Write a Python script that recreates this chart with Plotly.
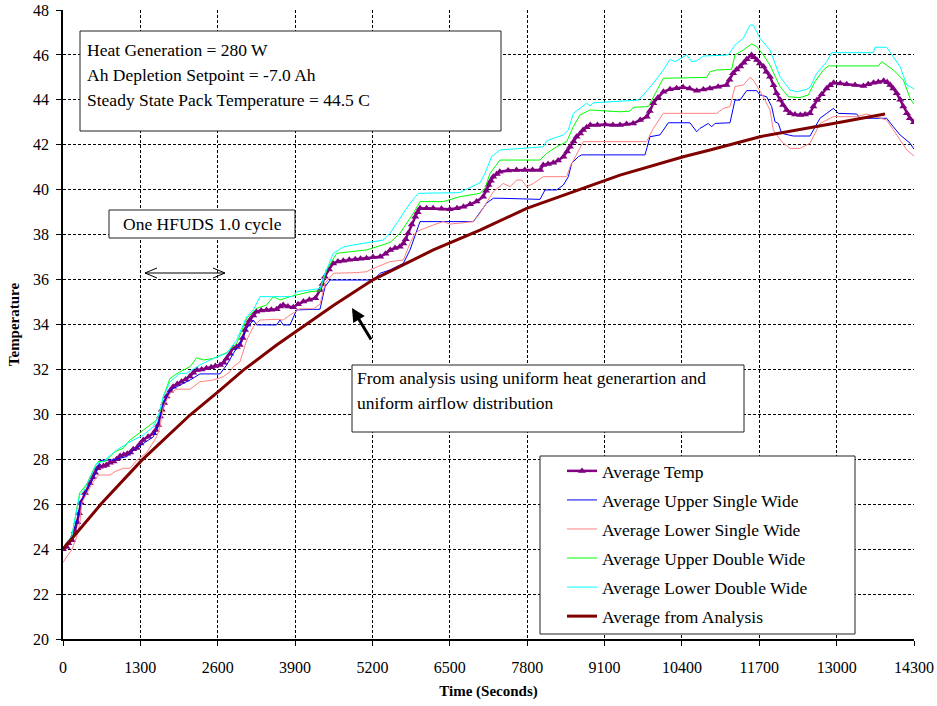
import plotly.graph_objects as go

# ---- series data (time in seconds, temperature in deg C) ----
time_avg = [0, 60, 90, 150, 200, 240, 270, 300, 370, 450, 500, 540, 580, 620, 680, 730, 790, 850, 900, 960,
            1020, 1080, 1130, 1180, 1240, 1300, 1350, 1430, 1520, 1560, 1600, 1630, 1660, 1700, 1740, 1800,
            1850, 1920, 1990, 2060, 2130, 2190, 2250, 2330, 2410, 2490, 2560, 2640, 2700, 2750, 2810, 2860,
            2920, 2970, 3020, 3060, 3100, 3140, 3200, 3250, 3330, 3420, 3500, 3590, 3650, 3700, 3780, 3870,
            3950, 4040, 4140, 4240, 4320, 4360, 4400, 4470, 4540, 4620, 4710, 4810, 4910, 5000, 5100, 5210,
            5330, 5420, 5500, 5580, 5660, 5720, 5760, 5800, 5860, 5920, 5960, 6000, 6110, 6220, 6360, 6500,
            6620, 6730, 6840, 6950, 7060, 7110, 7150, 7190, 7230, 7290, 7340, 7480, 7620, 7760, 7890, 8020,
            8070, 8150, 8240, 8320, 8410, 8470, 8520, 8580, 8630, 8690, 8740, 8800, 8860, 8980, 9110, 9240,
            9360, 9470, 9580, 9700, 9810, 9860, 9920, 10000, 10090, 10200, 10310, 10420, 10530, 10650, 10760,
            10870, 11010, 11150, 11200, 11260, 11320, 11380, 11440, 11490, 11570, 11610, 11660, 11710, 11770,
            11820, 11880, 11940, 11990, 12050, 12100, 12160, 12220, 12300, 12390, 12470, 12550, 12610, 12670,
            12750, 12830, 12890, 12950, 13060, 13170, 13310, 13450, 13530, 13620, 13700, 13790, 13850, 13900,
            13950, 14010, 14070, 14120, 14180, 14230, 14300]
temp_avg = [24.0, 24.1, 24.26, 24.4, 24.8, 25.2, 25.6, 26.07, 26.5, 26.93, 27.2, 27.4, 27.6, 27.67, 27.7, 27.75,
            27.85, 27.9, 28.0, 28.15, 28.2, 28.25, 28.3, 28.45, 28.5, 28.7, 28.86, 29.0, 29.16, 29.3, 29.53,
            29.9, 30.2, 30.5, 30.79, 31.05, 31.23, 31.35, 31.45, 31.55, 31.68, 31.85, 31.97, 32.0, 32.05, 32.1,
            32.15, 32.2, 32.3, 32.49, 32.7, 32.94, 33.0, 33.09, 33.4, 33.76, 34.0, 34.2, 34.4, 34.57, 34.62,
            34.65, 34.66, 34.68, 34.8, 34.87, 34.8, 34.77, 34.9, 35.02, 35.1, 35.17, 35.54, 35.8, 36.13, 36.45,
            36.72, 36.8, 36.84, 36.88, 36.9, 36.93, 36.95, 37.0, 37.02, 37.15, 37.32, 37.4, 37.46, 37.61, 37.8,
            38.06, 38.45, 38.8, 39.0, 39.17, 39.18, 39.17, 39.15, 39.13, 39.18, 39.24, 39.35, 39.47, 39.69,
            39.95, 40.21, 40.4, 40.58, 40.7, 40.8, 40.85, 40.88, 40.88, 40.88, 40.88, 41.1, 41.15, 41.2, 41.3,
            41.47, 41.7, 41.91, 42.15, 42.36, 42.5, 42.66, 42.78, 42.88, 42.88, 42.9, 42.88, 42.88, 42.92,
            42.95, 43.1, 43.25, 43.5, 43.85, 44.1, 44.36, 44.47, 44.52, 44.56, 44.5, 44.41, 44.46, 44.51,
            44.58, 44.66, 44.9, 45.18, 45.35, 45.48, 45.65, 45.81, 46.0, 45.9, 45.77, 45.62, 45.48, 45.25,
            45.03, 44.65, 44.29, 44.0, 43.77, 43.55, 43.4, 43.35, 43.33, 43.35, 43.4, 43.7, 43.99, 44.25,
            44.51, 44.65, 44.76, 44.73, 44.7, 44.66, 44.62, 44.7, 44.76, 44.8, 44.85, 44.78, 44.66, 44.5,
            44.29, 44.0, 43.7, 43.4, 43.18, 43.0]

time_usw = [0, 100, 240, 300, 400, 510, 594, 620, 846, 1070, 1182, 1350, 1518, 1602, 1686, 1798, 1966, 2134,
            2302, 2638, 2751, 2863, 2974, 3087, 3198, 3254, 3590, 3646, 3702, 3814, 3926, 4319, 4403, 4487,
            5215, 5327, 5495, 5719, 5831, 5943, 5999, 6895, 7119, 7231, 7343, 8016, 8100, 8296, 8408, 8492,
            8548, 8660, 8716, 9780, 9864, 10032, 10172, 10536, 10648, 10704, 10844, 10900, 10956, 11208,
            11292, 11376, 11488, 11656, 11712, 11824, 11908, 11964, 12020, 12076, 12272, 12553, 12721, 12833,
            12945, 13029, 13337, 13393, 13841, 13953, 14066, 14234, 14300]
temp_usw = [24.0, 24.3, 25.3, 26.1, 26.6, 27.15, 27.67, 27.95, 27.97, 28.12, 28.41, 28.71, 29.0, 29.6, 30.49,
            31.08, 31.31, 31.53, 31.8, 31.8, 32.2, 32.72, 33.16, 33.83, 34.2, 33.98, 33.98, 34.2, 33.98, 33.98,
            34.65, 34.68, 35.68, 35.98, 35.98, 36.28, 36.43, 36.72, 37.32, 38.2, 38.58, 38.58, 39.4, 39.62,
            39.62, 39.57, 39.99, 39.99, 40.21, 40.58, 41.18, 41.47, 41.55, 41.55, 42.36, 42.44, 42.98, 42.98,
            42.58, 42.73, 42.95, 42.8, 42.95, 42.98, 43.99, 43.99, 44.41, 44.41, 44.22, 44.14, 43.7, 43.03,
            42.95, 42.51, 42.39, 42.39, 43.18, 43.4, 43.62, 43.4, 43.37, 43.18, 43.18, 42.8, 42.44, 42.07, 41.8]

time_lsw = [0, 60, 146, 230, 286, 314, 398, 510, 594, 790, 874, 1014, 1126, 1238, 1406, 1574, 1630, 1686, 1798,
            1910, 2134, 2302, 2526, 2695, 2807, 2863, 2974, 3087, 3198, 3310, 3590, 3702, 3814, 3983, 4207,
            4319, 4403, 4543, 4935, 5103, 5159, 5495, 5719, 5831, 5915, 5999, 6223, 6391, 6503, 6895, 7007,
            7119, 7231, 7399, 7511, 7624, 7708, 7792, 7904, 8072, 8464, 8520, 8632, 8744, 9808, 9920, 10088,
            10984, 11096, 11208, 11292, 11432, 11544, 11600, 11768, 11880, 11936, 12076, 12217, 12385, 12553,
            12721, 12945, 13337, 13505, 13841, 14009, 14178, 14300]
temp_lsw = [23.4, 23.66, 23.96, 24.55, 25.22, 26.04, 26.48, 27.0, 27.3, 27.3, 27.45, 27.6, 27.6, 27.95, 28.3,
            29.0, 29.45, 30.34, 30.94, 31.12, 31.12, 31.45, 31.53, 31.68, 31.9, 32.12, 32.34, 33.31, 33.9,
            34.2, 34.23, 34.2, 34.42, 34.7, 34.7, 34.9, 35.83, 36.28, 36.31, 36.35, 36.43, 36.8, 36.87, 37.61,
            38.06, 38.2, 38.43, 38.58, 38.47, 38.58, 38.95, 39.4, 39.91, 40.28, 40.13, 40.43, 40.43, 40.13,
            40.28, 40.58, 40.58, 41.02, 41.55, 42.14, 42.14, 42.73, 43.4, 43.4, 43.62, 43.7, 44.59, 44.66,
            45.0, 44.88, 44.14, 43.55, 42.66, 42.14, 41.84, 41.84, 42.07, 42.95, 43.25, 43.25, 43.37, 43.1,
            42.44, 41.77, 41.5]

time_udw = [0, 150, 280, 400, 540, 594, 706, 874, 1014, 1126, 1350, 1574, 1630, 1686, 1798, 1966, 2134, 2246,
            2358, 2526, 2751, 2919, 3087, 3254, 3422, 3534, 3646, 3814, 3983, 4151, 4319, 4431, 4599, 5103,
            5495, 5663, 5887, 5999, 6391, 6671, 7007, 7091, 7175, 7343, 8016, 8128, 8296, 8464, 8576, 8688,
            8856, 9360, 9528, 9584, 9836, 9920, 10088, 10816, 10872, 10984, 11236, 11292, 11432, 11572,
            11656, 11768, 11880, 12048, 12188, 12385, 12525, 12637, 12777, 12861, 13701, 13757, 13953, 14122,
            14234, 14300]
temp_udw = [24.0, 24.6, 26.5, 26.9, 27.7, 27.9, 27.9, 28.34, 28.49, 28.86, 29.3, 29.75, 30.12, 30.79, 31.6,
            31.9, 32.12, 32.52, 32.42, 32.49, 32.75, 33.16, 34.28, 34.72, 34.87, 35.24, 35.09, 35.24, 35.35,
            35.46, 35.5, 36.43, 37.17, 37.32, 37.65, 38.06, 38.95, 39.47, 39.47, 39.69, 39.84, 40.06, 40.73,
            41.32, 41.32, 41.62, 41.91, 42.14, 42.81, 43.33, 43.55, 43.47, 43.5, 43.67, 43.7, 44.14, 44.96,
            45.0, 45.25, 45.33, 45.36, 46.0, 46.22, 46.49, 46.37, 46.0, 45.55, 44.59, 44.14, 44.1, 44.22,
            44.81, 45.33, 45.51, 45.51, 45.7, 45.33, 44.88, 44.07, 43.8]

time_ldw = [0, 150, 280, 350, 480, 566, 674, 902, 1126, 1350, 1518, 1602, 1686, 1798, 1966, 2078, 2302, 2526,
            2751, 2919, 3087, 3198, 3310, 3870, 3926, 4207, 4319, 4403, 4543, 4711, 4879, 5383, 5495, 5607,
            5831, 5971, 6671, 6755, 7007, 7091, 7203, 7343, 8072, 8128, 8408, 8492, 8576, 8800, 8856, 8912,
            9668, 9752, 9920, 10088, 10200, 10284, 10480, 10564, 10648, 10760, 11180, 11292, 11432, 11544,
            11600, 11712, 11880, 12048, 12217, 12329, 12497, 12553, 12665, 12833, 12917, 13617, 13645, 13841,
            13953, 14066, 14178, 14290, 14300]
temp_ldw = [24.0, 24.6, 26.4, 26.6, 27.3, 27.82, 27.9, 28.41, 28.78, 29.08, 29.45, 29.9, 30.79, 31.45, 31.83,
            31.83, 32.2, 32.49, 32.72, 33.31, 34.35, 34.65, 35.24, 35.24, 35.46, 35.54, 35.6, 36.28, 37.17,
            37.45, 37.54, 37.76, 38.06, 38.5, 39.4, 39.84, 39.87, 39.99, 40.31, 40.73, 41.47, 41.77, 41.91,
            42.18, 42.44, 42.66, 43.4, 43.85, 43.73, 43.87, 43.99, 44.22, 44.74, 45.33, 45.8, 45.7, 46.0, 45.7,
            45.74, 45.95, 46.0, 46.44, 46.74, 47.33, 47.33, 46.74, 46.22, 45.03, 44.44, 44.36, 44.47, 44.56,
            45.18, 45.7, 46.1, 46.1, 46.34, 46.34, 45.92, 45.48, 44.66, 44.51, 44.45]

time_ana = [0, 650, 1322, 2134, 2610, 3030, 3590, 3983, 4543, 5215, 5719, 6223, 7007, 7792, 9360, 10424, 10872,
            11712, 12945, 13813]
temp_ana = [24.0, 26.04, 27.95, 29.97, 31.01, 31.97, 33.09, 33.83, 34.85, 36.0, 36.65, 37.32, 38.2, 39.17,
            40.65, 41.47, 41.77, 42.36, 42.95, 43.37]

series_names = ["Average Temp", "Average Upper Single Wide", "Average Lower Single Wide",
                "Average Upper Double Wide", "Average Lower Double Wide", "Average from Analysis"]

x_ticks = list(range(0, 14301, 1300))
x_tick_text = [str(v) for v in x_ticks]
y_ticks = list(range(20, 49, 2))
y_tick_text = [str(v) for v in y_ticks]

note_lines = ["Heat Generation = 280 W", "Ah Depletion Setpoint = -7.0 Ah",
              "Steady State Pack Temperature = 44.5 C"]
cycle_label = "One HFUDS 1.0 cycle"
analysis_note = ["From analysis using uniform heat generartion and", "uniform airflow distribution"]

# ---- styling / layout ----
SERIF = "Liberation Serif, Times New Roman, serif"
TXT = 17.5
W, H = 937, 706
ML, MR, MT, MB = 63, 23, 10, 67
PW, PH = W - ML - MR, H - MT - MB


def fx(p):  # figure pixel -> paper x
    return (p - ML) / PW


def fy(p):  # figure pixel -> paper y
    return (H - MB - p) / PH


fig = go.Figure()

fig.add_trace(go.Scatter(x=time_avg, y=temp_avg, name=series_names[0], mode="lines+markers",
                         line=dict(color="#800080", width=2.5),
                         marker=dict(symbol="triangle-up", size=7, color="#800080"),
                         legendgroup="g0"))
fig.add_trace(go.Scatter(x=time_usw, y=temp_usw, name=series_names[1], mode="lines",
                         line=dict(color="#0000FF", width=1), legendgroup="g1"))
fig.add_trace(go.Scatter(x=time_lsw, y=temp_lsw, name=series_names[2], mode="lines",
                         line=dict(color="#FF8080", width=1), legendgroup="g2"))
fig.add_trace(go.Scatter(x=time_udw, y=temp_udw, name=series_names[3], mode="lines",
                         line=dict(color="#00FF00", width=1), legendgroup="g3"))
fig.add_trace(go.Scatter(x=time_ldw, y=temp_ldw, name=series_names[4], mode="lines",
                         line=dict(color="#00FFFF", width=1), legendgroup="g4"))
fig.add_trace(go.Scatter(x=time_ana, y=temp_ana, name=series_names[5], mode="lines",
                         line=dict(color="#800000", width=3), legendgroup="g5"))

axis_common = dict(
    showgrid=True, gridcolor="#000000", gridwidth=1, griddash="3px,2px",
    showline=True, linecolor="#000000", linewidth=1.5, mirror=False,
    ticks="outside", ticklen=5, tickcolor="#000000", tickwidth=1,
    tickfont=dict(family=SERIF, size=16, color="#000000"),
    zeroline=False, automargin=False,
)

fig.update_layout(
    width=W, height=H, autosize=False,
    margin=dict(l=ML, r=MR, t=MT, b=MB, autoexpand=False),
    paper_bgcolor="white", plot_bgcolor="white",
    showlegend=True,
    legend=dict(x=fx(562), y=fy(453), xanchor="left", yanchor="top",
                bgcolor="rgba(0,0,0,0)", borderwidth=0,
                font=dict(family=SERIF, size=TXT, color="#000000"),
                traceorder="grouped", tracegroupgap=3.3, itemwidth=30),
    xaxis=dict(range=[0, 14300], tickvals=x_ticks, ticktext=x_tick_text, ticklabelstandoff=8,
               title=dict(text="<b>Time (Seconds)</b>", font=dict(family=SERIF, size=15, color="#000000"),
                          standoff=11),
               **axis_common),
    # second bottom axis carries the inward half of the crossing x ticks
    xaxis2=dict(range=[0, 14300], overlaying="x", anchor="y", side="bottom", tickvals=x_ticks,
                ticks="inside", ticklen=6, tickcolor="#000000", tickwidth=1, automargin=False,
                showticklabels=False, showgrid=False, showline=False, zeroline=False),
    yaxis=dict(range=[20, 48], tickvals=y_ticks, ticktext=y_tick_text, ticklabelstandoff=4,
               title=dict(text="<b>Temperature</b>", font=dict(family=SERIF, size=15, color="#000000"),
                          standoff=10),
               **axis_common),
)

shapes = []
annotations = []


def box(x0, y0, x1, y1):
    shapes.append(dict(type="rect", xref="paper", yref="paper", layer="above",
                       x0=fx(x0), x1=fx(x1), y0=fy(y1), y1=fy(y0),
                       line=dict(color="#222222", width=1), fillcolor="white"))


def text(t, x, y, anchor="left"):
    annotations.append(dict(text=t, xref="paper", yref="paper", x=fx(x), y=fy(y),
                            xanchor=anchor, yanchor="middle", showarrow=False,
                            font=dict(family=SERIF, size=TXT, color="#000000")))


# parameters box
box(80, 31, 501, 131)
for i, line in enumerate(note_lines):
    text(line, 85, 50 + 25 * i)

# cycle label box
box(109, 210, 295, 238)
text(cycle_label, 202, 224, anchor="center")

# analysis note box
box(352, 365, 744, 432)
for i, line in enumerate(analysis_note):
    text(line, 355, 378 + 25 * i)

# legend frame
box(540, 456, 855, 634)

# double-headed arrow marking one drive cycle
ay_ = fy(273)
shapes.append(dict(type="line", xref="paper", yref="paper", x0=fx(145), x1=fx(225), y0=ay_, y1=ay_,
                   line=dict(color="#000000", width=1), layer="above"))
for tip, d in ((145, 1), (225, -1)):
    p = "M {},{} L {},{} L {},{}".format(fx(tip + 12 * d), fy(268), fx(tip), fy(273), fx(tip + 12 * d), fy(278))
    shapes.append(dict(type="path", xref="paper", yref="paper", path=p,
                       line=dict(color="#000000", width=1), layer="above"))

# arrow pointing at the analysis curve
annotations.append(dict(text="", xref="paper", yref="paper", x=fx(352), y=fy(308),
                        ax=20, ay=33, showarrow=True, arrowhead=2, arrowsize=0.9,
                        arrowwidth=3, arrowcolor="#000000"))

fig.update_layout(shapes=shapes, annotations=annotations)

fig.write_html("out.html")
